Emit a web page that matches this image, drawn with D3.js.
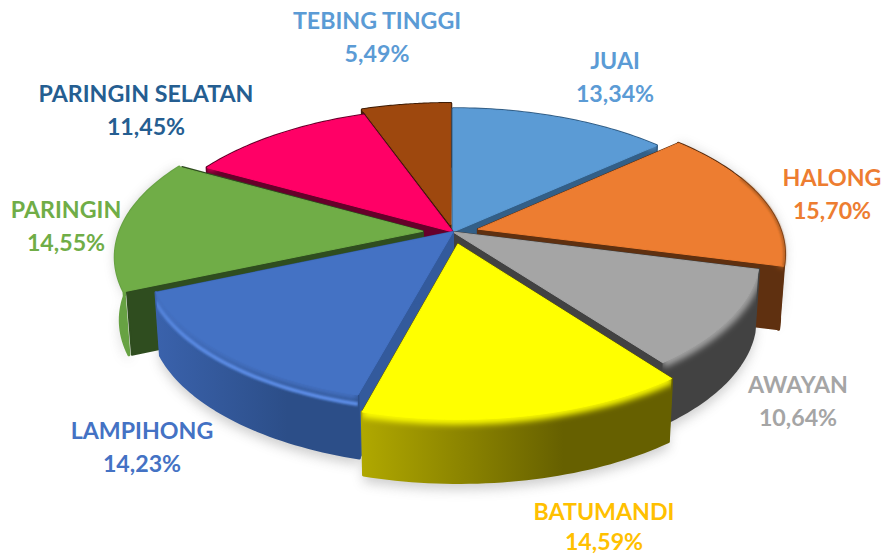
<!DOCTYPE html>
<html><head><meta charset="utf-8">
<script src="https://cdn.jsdelivr.net/npm/d3@7/dist/d3.min.js"></script>
<style>html,body{margin:0;background:#fff}svg{display:block}text{font-family:Lato,"Open Sans",sans-serif;font-weight:700;font-size:23.2px;text-anchor:middle}</style>
</head><body><svg id="c" width="883" height="556"></svg>
<script>
const categories=["JUAI","HALONG","AWAYAN","BATUMANDI","LAMPIHONG","PARINGIN","PARINGIN SELATAN","TEBING TINGGI"];
const values=[13.34,15.70,10.64,14.59,14.23,14.55,11.45,5.49];
const valueLabels=["13,34%","15,70%","10,64%","14,59%","14,23%","14,55%","11,45%","5,49%"];
const explode=[0,0.085,0,0.085,0,0.1,0,0.05];
const faceColors=["#5B9BD5","#ED7D31","#A5A5A5","#FFFF00","#4472C4","#70AD47","#FF0066","#9E480E"];
const cutColors=["#335F87","#5F3010","#424242","#6B6600","#335A9C","#2F4D1F","#66002A","#3F1D06"];
const wallLeft=["#335F87","#5F3010","#424242","#B0A800","#3A62AC","#67A243","#66002A","#3F1D06"];
const wallRight=["#335F87","#5F3010","#424242","#666000","#2C4E88","#67A243","#66002A","#3F1D06"];
const rimColors=[null,"#A85A20",null,null,"#5F90EA",null,null,null];
const labelColors=["#5B9BD5","#ED7D31","#A5A5A5","#FFC000","#4472C4","#70AD47","#255E91","#5B9BD5"];
const labelX=[615,832,798,604,142,66,146,377];
const labelBase=[69,186,393,520,439,218,102,29];
const valueBase=[102,219,426,550,472,251,135,62];

const cx=453,cy=232,R=303,Ry=143,P=0.16,D=63,K=0.985;
const uScale=d3.scaleLinear().domain([-1,1]).range([-R,R]);
const vScale=d3.scaleLinear().domain([-1,1]).range([-Ry,Ry]);
const proj=(u,v)=>{const w=1/(1-P*v);return [cx+uScale(u)*w,cy+vScale(v)*w];};
const down=p=>[cx+(p[0]-cx)*K,p[1]+D];
const line=d3.line();
const closed=pts=>line(pts)+"Z";

const arcs=d3.pie().sort(null).startAngle(0).endAngle(2*Math.PI)(values);
const svg=d3.select("#c"),defs=svg.append("defs");
const blur=(id,s)=>defs.append("filter").attr("id",id).attr("x","-30%").attr("y","-30%").attr("width","160%").attr("height","160%")
  .append("feGaussianBlur").attr("stdDeviation",s);
blur("b1",1.2);blur("b3",3);blur("b6",6);

const slices=arcs.map((a,i)=>{
  const mid=(a.startAngle+a.endAngle)/2,e=explode[i];
  const ox=Math.sin(mid)*e,oy=-Math.cos(mid)*e;
  const arc=d3.range(0,41).map(k=>{
    const t=a.startAngle+(a.endAngle-a.startAngle)*k/40;
    return proj(Math.sin(t)+ox,-Math.cos(t)+oy);
  });
  return {i,mid,apex:proj(ox,oy),arc,depth:-Math.cos(mid)+oy};
});
const shadow=svg.append("g").attr("filter","url(#b6)").attr("opacity",.36);
slices.forEach(s=>{
  const low=s.arc.map(down).map(p=>[p[0],p[1]+7]);
  if(s.depth>-0.3) shadow.append("path").attr("d",closed(s.arc.concat(low.slice().reverse()))).attr("fill","#777");
});
slices.slice().sort((a,b)=>a.depth-b.depth).forEach(s=>{
  const i=s.i,g=svg.append("g");
  const face=closed([s.apex].concat(s.arc));
  const lowArc=s.arc.map(down);
  const wall=closed(s.arc.concat(lowArc.slice().reverse()));
  const first=s.arc[0],last=s.arc[s.arc.length-1],ad=down(s.apex);
  const xs=s.arc.map(p=>p[0]);
  defs.append("linearGradient").attr("id","w"+i).attr("gradientUnits","userSpaceOnUse")
    .attr("x1",d3.min(xs)).attr("x2",d3.max(xs)).attr("y1",0).attr("y2",0)
    .selectAll("stop").data([[0,wallLeft[i]],[.65,wallRight[i]],[1,wallRight[i]]]).join("stop")
    .attr("offset",d=>d[0]).attr("stop-color",d=>d[1]);
  const drawWall=()=>g.append("path").attr("d",wall).attr("fill",`url(#w${i})`).attr("stroke",`url(#w${i})`).attr("stroke-width",3).attr("stroke-linejoin","round");
  const inset=i===5?3:0;
  const drawCuts=()=>[[first,down(first)],[last,down(last)]].forEach(c=>{
    const t=p=>[p[0]+inset,p[1]];
    g.append("path").attr("d",closed([s.apex,t(c[0]),t(c[1]),ad])).attr("fill",cutColors[i])
     .attr("stroke",cutColors[i]).attr("stroke-width",2).attr("stroke-linejoin","round");
  });
  if(i===5){drawWall();drawCuts();}else{drawCuts();drawWall();}
  const clip=defs.append("clipPath").attr("id","c"+i);
  clip.append("path").attr("d",face);clip.append("path").attr("d",wall);
  const band=g.append("g").attr("clip-path",`url(#c${i})`);
  if(rimColors[i]&&i!==1) band.append("path").attr("d",line(s.arc.map(p=>[p[0],p[1]+9]))).attr("fill","none")
    .attr("stroke",rimColors[i]).attr("stroke-width",4).attr("filter","url(#b1)");
  band.append("path").attr("d",line(s.arc)).attr("fill","none").attr("stroke",faceColors[i]).attr("stroke-width",10).attr("filter","url(#b3)");
  g.append("path").attr("d",face).attr("fill",faceColors[i]).attr("stroke",faceColors[i]).attr("stroke-width",1).attr("stroke-linejoin","round");
  if(i===1) g.append("path").attr("d",line(s.arc.slice(14))).attr("fill","none").attr("stroke",rimColors[i]).attr("stroke-width",2).attr("filter","url(#b1)");
});
const lab=svg.append("g");
categories.forEach((c,i)=>{
  lab.append("text").attr("x",labelX[i]).attr("y",labelBase[i]).attr("fill",labelColors[i]).text(c);
  lab.append("text").attr("x",labelX[i]).attr("y",valueBase[i]).attr("fill",labelColors[i]).text(valueLabels[i]);
});
</script></body></html>
